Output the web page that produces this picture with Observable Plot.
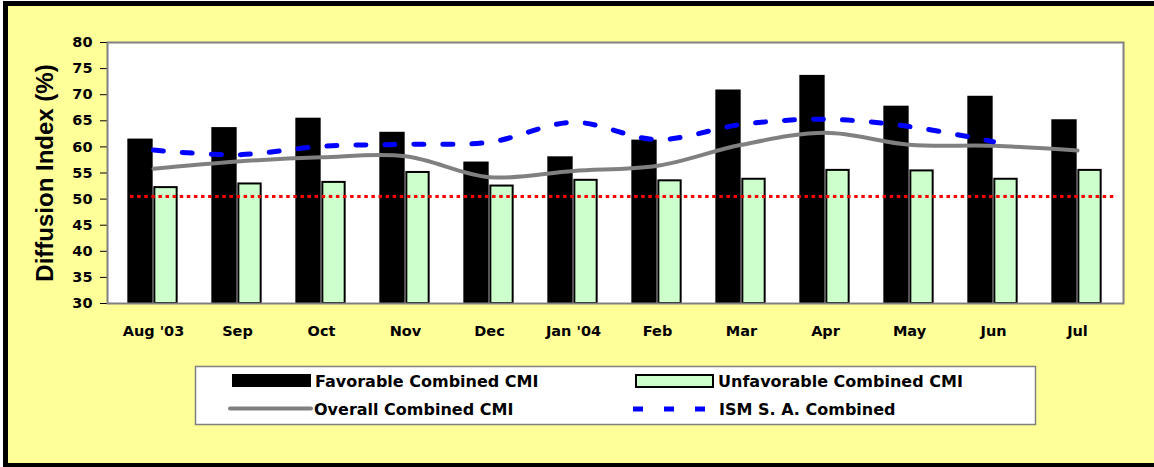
<!DOCTYPE html>
<html><head><meta charset="utf-8">
<script src="https://cdn.jsdelivr.net/npm/d3@7"></script>
<script src="https://cdn.jsdelivr.net/npm/@observablehq/plot@0.6"></script>
<style>
body{margin:0;background:#fff}
#wrap{position:relative;width:1154px;height:467px;overflow:hidden}
#bg{position:absolute;left:3px;top:1px;width:1200px;height:466px;box-sizing:border-box;background:#FFFF99;border-style:solid;border-color:#000;border-width:5px 0 4px 5px}
#chart{position:absolute;left:0;top:0}
#legend{position:absolute;left:0;top:0}
</style></head><body>
<div id="wrap"><div id="bg"></div><div id="chart"></div><svg id="legend" width="1154" height="467"></svg></div>
<script>
const months = ["Aug '03","Sep","Oct","Nov","Dec","Jan '04","Feb","Mar","Apr","May","Jun","Jul"];
const favorable   = [61.5, 63.7, 65.5, 62.8, 57.1, 58.1, 61.3, 70.9, 73.7, 67.8, 69.7, 65.2];
const unfavorable = [52.2, 52.9, 53.2, 55.1, 52.5, 53.6, 53.5, 53.8, 55.5, 55.4, 53.8, 55.5];
const overall     = [55.8, 57.2, 58.0, 58.2, 54.2, 55.4, 56.4, 60.4, 62.7, 60.4, 60.2, 59.3];
const ism         = [59.4, 58.5, 60.1, 60.5, 60.9, 64.7, 61.4, 64.3, 65.3, 63.9, 61.0, null];
const referenceLevel = 50.5;
const yTicks = [30, 35, 40, 45, 50, 55, 60, 65, 70, 75, 80];
const seriesNames = ["Favorable Combined CMI", "Unfavorable Combined CMI", "Overall Combined CMI", "ISM S. A. Combined"];
const yTitle = "Diffusion Index (%)";

const W = 1154, H = 345, mL = 107, mR = 31, mT = 42, mB = 42;
const bw = (W - mL - mR) / months.length;
const barData = months.map((m, i) => ({month: m, fav: favorable[i], unf: unfavorable[i]}));
const lineData = months.map((m, i) => ({month: m, overall: overall[i], ism: ism[i]}));

const chart = Plot.plot({
  width: W, height: H,
  marginLeft: mL, marginRight: mR, marginTop: mT, marginBottom: mB,
  style: {background: "transparent", fontFamily: "'DejaVu Sans', sans-serif", fontSize: "14.5px", fontWeight: "bold", color: "#000"},
  x: {type: "band", domain: months, padding: 0, tickSize: 0, tickPadding: 22, label: null},
  y: {domain: [30, 80], ticks: yTicks, tickSize: 7, tickPadding: 8, label: null},
  marks: [
    Plot.frame({fill: "white", stroke: "none"}),
    Plot.barY(barData, {x: "month", y1: 30, y2: "fav", fill: "black", insetLeft: bw / 2 - 26, insetRight: bw / 2}),
    Plot.barY(barData, {x: "month", y1: 30, y2: "unf", fill: "#CCFFCC", stroke: "black", strokeWidth: 2, insetLeft: bw / 2 + 1, insetRight: bw / 2 - 24}),
    Plot.ruleY([referenceLevel], {stroke: "#FF0000", strokeWidth: 3, strokeDasharray: "3.5,3.6", insetLeft: 23, insetRight: 6}),
    Plot.line(lineData, {x: "month", y: "overall", stroke: "#808080", strokeWidth: 4, curve: "catmull-rom"}),
    Plot.line(lineData.filter(d => d.ism != null), {x: "month", y: "ism", stroke: "#0000FF", strokeWidth: 5, strokeDasharray: "10,19", curve: "catmull-rom"}),
    Plot.frame({stroke: "#808080", strokeWidth: 2}),
    Plot.text([yTitle], {frameAnchor: "left", textAnchor: "middle", rotate: -90, dx: -62, fontSize: 24, fontFamily: "'Liberation Sans', Arial, sans-serif", fontWeight: "bold", fill: "black"})
  ]
});
document.getElementById("chart").appendChild(chart);

// Legend
const lg = d3.select("#legend");
lg.append("rect").attr("x", 195.5).attr("y", 366.5).attr("width", 840).attr("height", 58)
  .attr("fill", "white").attr("stroke", "#808080").attr("stroke-width", 1.5);
lg.append("rect").attr("x", 232).attr("y", 374).attr("width", 79).attr("height", 13).attr("fill", "black");
lg.append("rect").attr("x", 636).attr("y", 375).attr("width", 77).attr("height", 12)
  .attr("fill", "#CCFFCC").attr("stroke", "black").attr("stroke-width", 2);
lg.append("line").attr("x1", 230).attr("x2", 311).attr("y1", 408.5).attr("y2", 408.5)
  .attr("stroke", "#808080").attr("stroke-width", 4).attr("stroke-linecap", "round");
lg.append("line").attr("x1", 633).attr("x2", 706).attr("y1", 409).attr("y2", 409)
  .attr("stroke", "#0000FF").attr("stroke-width", 5).attr("stroke-dasharray", "10,21");
const lt = [[315, 386.6], [718, 386.6], [314, 414.5], [719, 414.5]];
seriesNames.forEach((s, i) => {
  lg.append("text").attr("x", lt[i][0]).attr("y", lt[i][1]).text(s)
    .attr("font-family", "'DejaVu Sans', sans-serif").attr("font-size", 16).attr("font-weight", "bold").attr("fill", "black");
});
</script>
</body></html>
